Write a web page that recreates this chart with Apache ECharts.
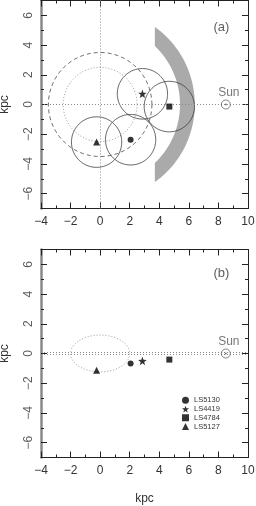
<!DOCTYPE html>
<html><head><meta charset="utf-8">
<script src="https://cdn.jsdelivr.net/npm/echarts@6/dist/echarts.min.js"></script>
<style>html,body{margin:0;padding:0;background:#fff;} #c{width:256px;height:506px;}</style>
</head><body><div id="c"></div>
<script>
// ---- data ----
const sourceNames = ['LS5130', 'LS4419', 'LS4784', 'LS5127'];
const galX = [2.06, 2.86, 4.68, -0.24];
const galY = [-2.37, 0.72, -0.14, -2.53];
const galZ = [-0.68, -0.50, -0.41, -1.13];
const errorRadius = [1.7, 1.7, 1.7, 1.7];
const sunXY = [8.5, 0];
const dottedRingRadius = 2.5;
const dashedRingRadius = 3.5;
const armBand = [5.4, 6.4, 3.7];          // inner radius, outer radius, x cut
const bottomEllipse = [0, 0, 2.0, 1.24];  // cx, cz, rx, rz
const planeLinesZ = [0.07, -0.07];
const xTickLabels = [-4, -2, 0, 2, 4, 6, 8, 10];
const yTickLabels = [-6, -4, -2, 0, 2, 4, 6];
const yMinorTicks = [-5, -3, -1, 1, 3, 5];
const xRange = [-4, 10];
const yRange = [-7, 7];
const panelLabels = ['(a)', '(b)'];
const panelLabelPos = [[8.2, 5.22], [8.2, 5.37]];

// ---- styling ----
const FONT = '"Liberation Sans", Helvetica, Arial, sans-serif';
const TXT = '#333';
const INK = '#222';
const symbols = ['circle', starPath(), 'rect', 'triangle'];
const symbolSizes = [6, 8.5, 6, 7];
function starPath() {
  const p = [];
  for (let i = 0; i < 10; i++) {
    const r = i % 2 ? 0.42 : 1, a = -Math.PI / 2 + i * Math.PI / 5;
    p.push((r * Math.cos(a)).toFixed(3) + ' ' + (r * Math.sin(a)).toFixed(3));
  }
  return 'path://M' + p.join(' L') + ' Z';
}
const minus = v => String(v).replace('-', '\u2212');

function xAxes(g, showName) {
  const base = {
    gridIndex: g, type: 'value', min: xRange[0], max: xRange[1], interval: 2,
    splitLine: { show: false },
    minorTick: { show: true, splitNumber: 2, length: 3, lineStyle: { color: INK, width: 1 } },
    axisTick: { show: true, inside: true, length: 6, lineStyle: { color: INK, width: 1 } },
    axisLine: { show: true, onZero: false, lineStyle: { color: INK, width: 1 } }
  };
  return [
    Object.assign({}, base, {
      position: 'bottom',
      axisLabel: { show: true, margin: 7, fontSize: 12, color: TXT, fontFamily: FONT, showMinLabel: true, showMaxLabel: true, formatter: minus },
      name: showName ? 'kpc' : '', nameLocation: 'middle', nameGap: 35,
      nameTextStyle: { fontSize: 12, color: TXT, fontFamily: FONT }
    }),
    Object.assign({}, base, { position: 'top', axisLabel: { show: false } })
  ];
}
function yAxes(g) {
  const common = { gridIndex: g, type: 'value', min: yRange[0], max: yRange[1], interval: 1, splitLine: { show: false } };
  return [
    Object.assign({}, common, {
      position: 'left',
      axisLine: { show: true, onZero: false, lineStyle: { color: '#8a8a8a', width: 2.5 } },
      axisTick: { show: true, inside: true, length: 6, customValues: yTickLabels, lineStyle: { color: INK } },
      axisLabel: { show: false },
      name: 'kpc', nameLocation: 'middle', nameGap: 30, nameRotate: 90,
      nameTextStyle: { fontSize: 12, color: TXT, fontFamily: FONT }
    }),
    Object.assign({}, common, {
      position: 'left', axisLine: { show: false, onZero: false },
      axisTick: { show: true, inside: true, length: 3, customValues: yMinorTicks, lineStyle: { color: INK } },
      axisLabel: { show: false }
    }),
    Object.assign({}, common, {
      position: 'right',
      axisLine: { show: true, onZero: false, lineStyle: { color: INK, width: 1 } },
      axisTick: { show: true, inside: true, length: 6, customValues: yTickLabels, lineStyle: { color: INK } },
      axisLabel: { show: false }
    }),
    Object.assign({}, common, {
      position: 'right', axisLine: { show: false, onZero: false },
      axisTick: { show: true, inside: true, length: 3, customValues: yMinorTicks, lineStyle: { color: INK } },
      axisLabel: { show: false }
    })
  ];
}

// rotated y tick labels, placed on the y scale at the left edge of the grid
function yLabelSeries(xi, yi) {
  return {
    type: 'scatter', xAxisIndex: xi, yAxisIndex: yi, silent: true, clip: false,
    symbolSize: 0, itemStyle: { color: 'rgba(0,0,0,0)' },
    label: {
      show: true, position: [-12, 0], rotate: 90, align: 'center', verticalAlign: 'middle',
      fontSize: 12, color: TXT, fontFamily: FONT,
      formatter: p => minus(p.value[1])
    },
    data: yTickLabels.map(v => [xRange[0], v])
  };
}

function ellipseSeries(xi, yi, data, style, z) {
  return {
    type: 'custom', coordinateSystem: 'cartesian2d', xAxisIndex: xi, yAxisIndex: yi, silent: true, z: z,
    data: data,
    renderItem: (params, api) => {
      const c = api.coord([api.value(0), api.value(1)]);
      const rx = api.size([api.value(2), 0])[0];
      const ry = api.size([0, api.value(3)])[1];
      const pts = [];
      for (let i = 0; i <= 180; i++) {
        const t = i / 180 * 2 * Math.PI;
        pts.push([c[0] + rx * Math.cos(t), c[1] + ry * Math.sin(t)]);
      }
      return { type: 'polyline', shape: { points: pts }, style: Object.assign({ fill: null }, style) };
    }
  };
}

function markerSeries(xi, yi, ys) {
  return sourceNames.map((name, i) => ({
    type: 'scatter', name: name, xAxisIndex: xi, yAxisIndex: yi, z: 10, silent: true,
    symbol: symbols[i], symbolSize: symbolSizes[i],
    itemStyle: { color: '#000' },
    data: [[galX[i], ys[i]]]
  }));
}

function sunSeries(xi, yi, lines) {
  return [
    {
      type: 'scatter', xAxisIndex: xi, yAxisIndex: yi, z: 9, silent: true,
      symbol: 'circle', symbolSize: 9,
      itemStyle: { color: 'rgba(0,0,0,0)', borderColor: '#555', borderWidth: 0.9 },
      label: { show: true, formatter: 'Sun', position: 'top', distance: 1, offset: [3, 0], fontSize: 12, color: '#555', fontFamily: FONT },
      data: [sunXY],
      markLine: {
        silent: true, symbol: 'none', label: { show: false },
        lineStyle: { type: [1, 2], color: '#8a8a8a', width: 1 },
        data: lines
      }
    },
    {
      type: 'scatter', xAxisIndex: xi, yAxisIndex: yi, z: 9, silent: true,
      symbol: 'circle', symbolSize: 2, itemStyle: { color: '#555' }, data: [sunXY]
    }
  ];
}

function panelLabelSeries(xi, yi, k) {
  return {
    type: 'scatter', xAxisIndex: xi, yAxisIndex: yi, silent: true, symbolSize: 1,
    itemStyle: { color: 'rgba(0,0,0,0)' },
    label: { show: true, position: 'inside', formatter: panelLabels[k], fontSize: 13, color: TXT, fontFamily: FONT },
    data: [panelLabelPos[k]]
  };
}

const series = [];
// ---- panel (a) ----
series.push({
  type: 'custom', coordinateSystem: 'cartesian2d', xAxisIndex: 0, yAxisIndex: 0, silent: true, z: 1,
  data: [armBand],
  renderItem: (params, api) => {
    const r0 = api.value(0), r1 = api.value(1), xc = api.value(2);
    const a1 = Math.acos(xc / r1), a0 = Math.acos(xc / r0);
    const pts = [];
    for (let i = 0; i <= 80; i++) { const t = a1 - 2 * a1 * i / 80; pts.push(api.coord([r1 * Math.cos(t), r1 * Math.sin(t)])); }
    for (let i = 0; i <= 80; i++) { const t = -a0 + 2 * a0 * i / 80; pts.push(api.coord([r0 * Math.cos(t), r0 * Math.sin(t)])); }
    return { type: 'polygon', shape: { points: pts }, style: { fill: '#aaaaaa', stroke: null } };
  }
});
series.push(ellipseSeries(0, 0, [[0, 0, dottedRingRadius, dottedRingRadius]], { stroke: '#9a9a9a', lineWidth: 1, lineDash: [1, 2] }, 2));
series.push(ellipseSeries(0, 0, [[0, 0, dashedRingRadius, dashedRingRadius]], { stroke: '#444', lineWidth: 0.8, lineDash: [4, 3] }, 2));
series.push(ellipseSeries(0, 0, galX.map((x, i) => [x, galY[i], errorRadius[i], errorRadius[i]]), { stroke: '#333', lineWidth: 0.8 }, 3));
series.push(...markerSeries(0, 0, galY));
series.push(...sunSeries(0, 0, [{ xAxis: 0 }, { yAxis: 0 }]));
series.push(panelLabelSeries(0, 0, 0));
series.push(yLabelSeries(0, 0));
// ---- panel (b) ----
series.push(ellipseSeries(2, 4, [bottomEllipse], { stroke: '#9a9a9a', lineWidth: 1, lineDash: [1, 2] }, 2));
series.push(...markerSeries(2, 4, galZ));
series.push(...sunSeries(2, 4, planeLinesZ.map(z => ({ yAxis: z }))));
series.push(panelLabelSeries(2, 4, 1));
series.push(yLabelSeries(2, 4));

const chart = echarts.init(document.getElementById('c'), null, { renderer: 'canvas' });
chart.setOption({
  animation: false,
  backgroundColor: '#fff',
  grid: [
    { left: 41, top: 0.5, width: 207, height: 208, containLabel: false, outerBoundsMode: 'none' },
    { left: 41, top: 249.5, width: 207, height: 208, containLabel: false, outerBoundsMode: 'none' }
  ],
  xAxis: [...xAxes(0, false), ...xAxes(1, true)],
  yAxis: [...yAxes(0), ...yAxes(1)],
  legend: {
    data: sourceNames, orient: 'vertical', left: 182, top: 396,
    itemWidth: 7, itemHeight: 7, itemGap: 0, padding: 0, selectedMode: false,
    textStyle: { fontSize: 7.5, lineHeight: 8.7, color: TXT, fontFamily: FONT }
  },
  series: series
});
</script></body></html>
